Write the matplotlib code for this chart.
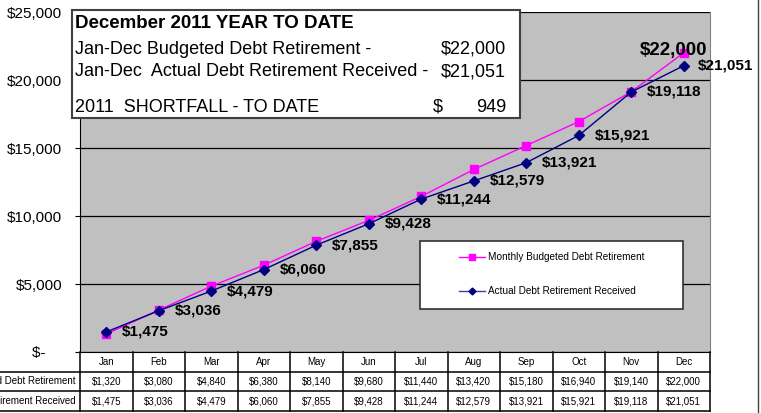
import matplotlib
matplotlib.use('Agg')
import matplotlib.pyplot as plt
from matplotlib.patches import Rectangle
from matplotlib.lines import Line2D
from matplotlib.ticker import FuncFormatter

months = ['Jan', 'Feb', 'Mar', 'Apr', 'May', 'Jun',
          'Jul', 'Aug', 'Sep', 'Oct', 'Nov', 'Dec']
budgeted = [1320, 3080, 4840, 6380, 8140, 9680,
            11440, 13420, 15180, 16940, 19140, 22000]
actual = [1475, 3036, 4479, 6060, 7855, 9428,
          11244, 12579, 13921, 15921, 19118, 21051]
budget_label = 'Monthly Budgeted Debt Retirement'
actual_label = 'Actual Debt Retirement Received'
ytd_title = 'December 2011 YEAR TO DATE'

plt.rcParams['font.family'] = ['Liberation Sans', 'DejaVu Sans']

W, H = 761, 413
PT = 0.72  # points per pixel at dpi 100
fig = plt.figure(figsize=(W / 100, H / 100), dpi=100)


def box(l, t, r, b):
    # pixel box (from top-left) -> figure fraction rect
    return [l / W, 1 - b / H, (r - l) / W, (b - t) / H]


def money(v):
    return '${:,.0f}'.format(v)


## main plot
ax = fig.add_axes(box(80, 12, 710, 352))
ax.set_facecolor('#C0C0C0')
x = list(range(len(months)))
ax.plot(x, budgeted, color='#FF00FF', lw=1, marker='s', ms=6, zorder=3)
ax.plot(x, actual, color='#000080', lw=1, marker='D', ms=5.5, zorder=4)
ax.set_xlim(-0.5, len(months) - 0.5)
ax.set_ylim(0, 25000)
ax.set_yticks(range(0, 25001, 5000))
ax.yaxis.set_major_formatter(FuncFormatter(lambda v, p: '$-    ' if v == 0 else money(v)))
ax.set_xticks([])
ax.grid(axis='y', color='black', lw=0.9)
ax.set_axisbelow(True)
ax.spines['top'].set_visible(False)
ax.spines['right'].set_color('#808080')
ax.spines['left'].set_color('black')
ax.spines['bottom'].set_color('black')
ax.tick_params(axis='y', length=5 * PT, pad=13 * PT, labelsize=11, color='black')

for i, v in enumerate(actual[:-1]):
    ax.annotate(money(v), (i, v), xytext=(16 * PT, 0), textcoords='offset points',
                ha='left', va='center', fontsize=11, fontweight='bold', zorder=6)
ax.annotate(money(actual[-1]), (x[-1], actual[-1]), xytext=(14 * PT, 0),
            textcoords='offset points', ha='left', va='center',
            fontsize=11, fontweight='bold', zorder=6, annotation_clip=False)
ax.annotate(money(budgeted[-1]), (x[-1], budgeted[-1]), xytext=(-10 * PT, 2 * PT),
            textcoords='offset points', ha='center', va='center',
            fontsize=13.5, fontweight='bold', zorder=6, annotation_clip=False)

## data table under the plot
tax = fig.add_axes(box(80, 352, 710, 411))
tax.set_xlim(-0.5, len(months) - 0.5)
tax.set_ylim(3, 0)
tax.axis('off')
for i in range(len(months) + 1):
    tax.plot([i - 0.5, i - 0.5], [0, 3], color='black', lw=1.1, clip_on=False)
for r in (1, 2, 3):
    tax.plot([-3, len(months) - 0.5], [r, r], color='black', lw=1.1, clip_on=False)
for i, m in enumerate(months):
    tax.text(i, 0.5, m, ha='center', va='center', fontsize=7)
    tax.text(i, 1.5, money(budgeted[i]), ha='center', va='center', fontsize=7)
    tax.text(i, 2.5, money(actual[i]), ha='center', va='center', fontsize=7)
# row labels run off the left edge, as in the original
tax.text(-0.58, 1.5, budget_label, ha='right', va='center', fontsize=7, clip_on=False)
tax.text(-0.58, 2.5, actual_label, ha='right', va='center', fontsize=7, clip_on=False)

## overlay: summary box, legend, chart border (pixel coords)
oax = fig.add_axes([0, 0, 1, 1])
oax.set_xlim(0, W)
oax.set_ylim(H, 0)
oax.axis('off')

oax.add_patch(Rectangle((72, 10), 448, 108, fc='white', ec='#404040', lw=1.5))
oax.text(75, 24, ytd_title, ha='left', va='center', fontsize=13.5, fontweight='bold')
oax.text(75, 49, 'Jan-Dec Budgeted Debt Retirement -', ha='left', va='center', fontsize=13)
oax.text(506, 49, money(budgeted[-1]), ha='right', va='center', fontsize=13)
oax.text(75, 72, 'Jan-Dec  Actual Debt Retirement Received -', ha='left', va='center', fontsize=13)
oax.text(506, 72, money(actual[-1]), ha='right', va='center', fontsize=13)
oax.text(75, 107, '2011  SHORTFALL - TO DATE', ha='left', va='center', fontsize=13)
oax.text(433, 107, '$', ha='left', va='center', fontsize=13)
oax.text(506, 107, '{:,}'.format(budgeted[-1] - actual[-1]), ha='right', va='center', fontsize=13)

oax.add_patch(Rectangle((420, 241), 263, 68, fc='white', ec='#303030', lw=1.2))
oax.add_line(Line2D([459, 485], [257, 257], color='#FF00FF', lw=1))
oax.add_line(Line2D([472], [257], color='#FF00FF', marker='s', ms=4.5))
oax.add_line(Line2D([459, 485], [291, 291], color='#4040A0', lw=1))
oax.add_line(Line2D([472], [291], color='#000080', marker='D', ms=3.5))
oax.text(488, 257, budget_label, ha='left', va='center', fontsize=7.2)
oax.text(488, 291, actual_label, ha='left', va='center', fontsize=7.2)

oax.add_line(Line2D([758, 758], [0, H], color='#404040', lw=1))

fig.savefig('out.png', dpi=100)
